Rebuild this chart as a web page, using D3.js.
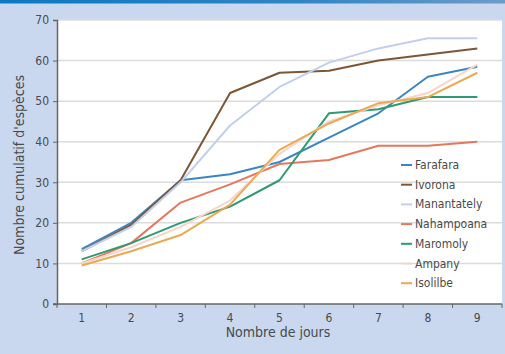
<!DOCTYPE html>
<html><head><meta charset="utf-8">
<script src="https://cdn.jsdelivr.net/npm/d3@7"></script>
<style>
html,body{margin:0;padding:0;background:#c9d8ef;}
svg{display:block;}
text{font-family:"Liberation Sans Narrow","DejaVu Sans Condensed","Liberation Sans",sans-serif;fill:#4a4a4a;}
</style></head>
<body>
<svg id="c" width="505" height="354"></svg>
<script>
const days = [1,2,3,4,5,6,7,8,9];
const yTicks = [0,10,20,30,40,50,60,70];
const seriesNames = ["Farafara","Ivorona","Manantately","Nahampoana","Maromoly","Ampany","Isolilbe"];
const seriesColors = ["#3b86c2","#7d5636","#c3cfea","#e2795e","#2e9a72","#f4d6cc","#e9aa52"];
const farafara    = [13.5,20,30.5,32,35,41,47,56,58.5];
const ivorona     = [13,19.5,30.5,52,57,57.5,60,61.5,63];
const manantately = [13,19,30,44,53.5,59.5,63,65.5,65.5];
const nahampoana  = [10,15,25,29.5,34.5,35.5,39,39,40];
const maromoly    = [11,15,20,24,30.5,47,48,51,51];
const ampany      = [10,14,19,25.5,37,45,49,52,59];
const isolilbe    = [9.5,13,17,24.5,38,44.5,49.5,51,57];
const values = [farafara,ivorona,manantately,nahampoana,maromoly,ampany,isolilbe];

const svg = d3.select("#c");
// top bar
const defs = svg.append("defs");
const g1 = defs.append("linearGradient").attr("id","tb");
g1.append("stop").attr("offset","0%").attr("stop-color","#0b78c2");
g1.append("stop").attr("offset","60%").attr("stop-color","#2f86c4");
g1.append("stop").attr("offset","100%").attr("stop-color","#6e9cc8");
svg.append("rect").attr("x",0).attr("y",0).attr("width",505).attr("height",3.5).attr("fill","url(#tb)");

const L=57, R=502, T=20, B=304;
svg.append("rect").attr("x",L).attr("y",T).attr("width",R-L).attr("height",B-T).attr("fill","#ffffff");

const x = d3.scaleBand().domain(days).range([L,R]);
const y = d3.scaleLinear().domain([0,70]).range([B,T]);

// grid
svg.append("g").selectAll("line").data(yTicks.filter(d=>d>0)).join("line")
  .attr("x1",L).attr("x2",R).attr("y1",d=>y(d)).attr("y2",d=>y(d))
  .attr("stroke","#dcdcdc").attr("stroke-width",1.5);

// series
const line = d3.line().x((d,i)=>x(days[i])+x.bandwidth()/2).y(d=>y(d));
values.forEach((v,i)=>{
  svg.append("path").attr("d",line(v)).attr("fill","none")
    .attr("stroke",seriesColors[i]).attr("stroke-width",2).attr("stroke-linejoin","round");
});

// axes
const yAxis = svg.append("g").attr("transform",`translate(${L},0)`)
  .call(d3.axisLeft(y).tickValues(yTicks).tickSize(4).tickPadding(4));
yAxis.select(".domain").attr("stroke","#666").attr("stroke-width",1.5);
yAxis.selectAll(".tick line").attr("stroke","#666");
yAxis.selectAll("text").style("font-size","12px").attr("fill","#555");

const xAxis = svg.append("g").attr("transform",`translate(0,${B})`)
  .call(d3.axisBottom(x).tickSize(0).tickPadding(9));
xAxis.select(".domain").attr("stroke","#666").attr("stroke-width",1.5).attr("d",`M${L-4},0H${R}`);
xAxis.selectAll("text").style("font-size","12px").attr("fill","#555");
// boundary ticks
svg.append("g").selectAll("line").data(d3.range(days.length+1)).join("line")
  .attr("x1",i=>L+i*x.bandwidth()).attr("x2",i=>L+i*x.bandwidth())
  .attr("y1",B).attr("y2",B+4).attr("stroke","#666");

// axis titles
svg.append("text").attr("x",278).attr("y",337).attr("text-anchor","middle")
  .style("font-size","14px").attr("fill","#3a3a3a").text("Nombre de jours");
svg.append("text").attr("transform","translate(24,165) rotate(-90)").attr("text-anchor","middle")
  .style("font-size","14px").attr("fill","#3a3a3a").text("Nombre cumulatif d'espèces");

// legend
const lg = svg.append("g").attr("transform","translate(401,165)");
seriesNames.forEach((n,i)=>{
  const gy = i*19.7;
  lg.append("line").attr("x1",0).attr("x2",11).attr("y1",gy).attr("y2",gy)
    .attr("stroke",seriesColors[i]).attr("stroke-width",2);
  lg.append("text").attr("x",14).attr("y",gy+4).style("font-size","12px").attr("fill","#3a3a3a").text(n);
});
</script>
</body></html>
